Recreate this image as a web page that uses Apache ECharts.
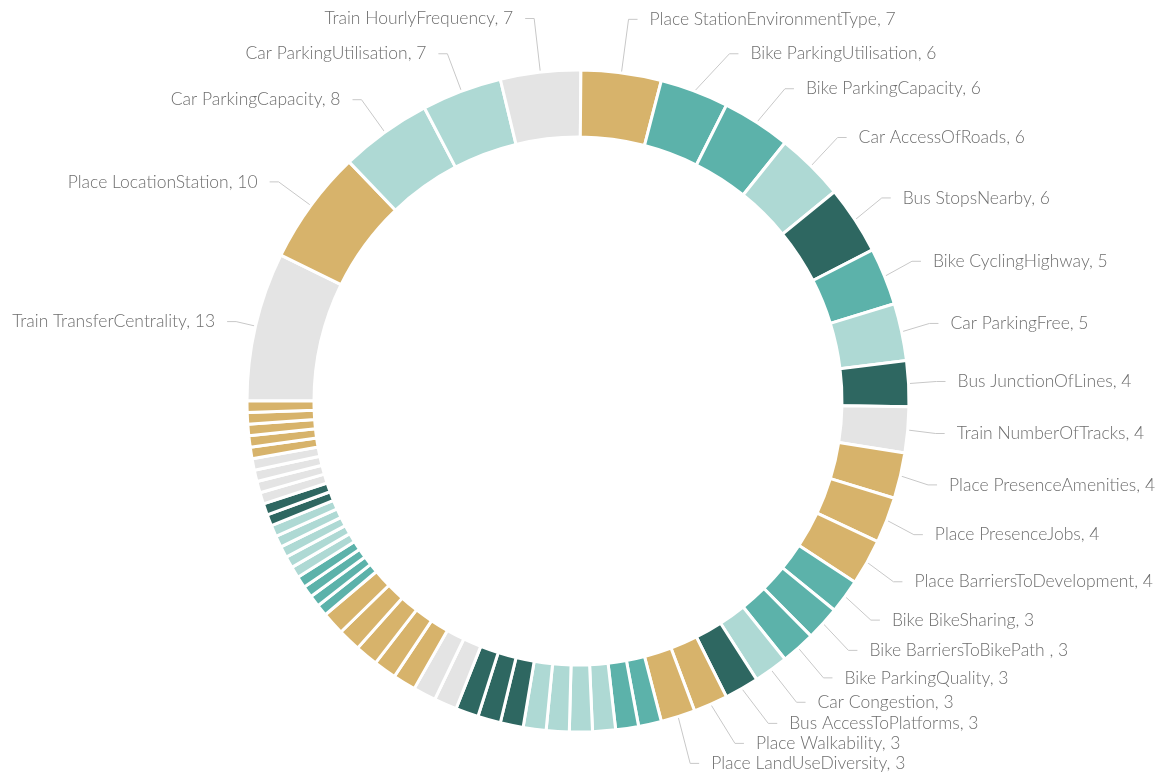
<!DOCTYPE html>
<html>
<head>
<meta charset="utf-8">
<script src="https://cdn.jsdelivr.net/npm/echarts@6/dist/echarts.min.js"></script>
<style>
  html, body { margin: 0; padding: 0; background: #fff; }
  #main { width: 1165px; height: 776px; }
</style>
</head>
<body>
<div id="main"></div>
<script>
// indicators, in drawing order (clockwise from 9 o'clock)
var names = [
  'Train TransferCentrality', 'Place LocationStation', 'Car ParkingCapacity',
  'Car ParkingUtilisation', 'Train HourlyFrequency', 'Place StationEnvironmentType',
  'Bike ParkingUtilisation', 'Bike ParkingCapacity', 'Car AccessOfRoads', 'Bus StopsNearby',
  'Bike CyclingHighway', 'Car ParkingFree',
  'Bus JunctionOfLines', 'Train NumberOfTracks', 'Place PresenceAmenities', 'Place PresenceJobs',
  'Place BarriersToDevelopment',
  'Bike BikeSharing', 'Bike BarriersToBikePath ', 'Bike ParkingQuality', 'Car Congestion',
  'Bus AccessToPlatforms', 'Place Walkability', 'Place LandUseDiversity',
  // small, unlabelled indicators
  'Bike Other A', 'Bike Other B',
  'Car Other A', 'Car Other B', 'Car Other C', 'Car Other D',
  'Bus Other A', 'Bus Other B', 'Bus Other C',
  'Train Other A', 'Train Other B',
  'Place Other A', 'Place Other B', 'Place Other C', 'Place Other D', 'Place Other E',
  'Bike Other C', 'Bike Other D', 'Bike Other E', 'Bike Other F',
  'Car Other E', 'Car Other F', 'Car Other G', 'Car Other H', 'Car Other I',
  'Bus Other D', 'Bus Other E',
  'Train Other C', 'Train Other D', 'Train Other E', 'Train Other F',
  'Place Other F', 'Place Other G', 'Place Other H', 'Place Other I', 'Place Other J'
];
var values = [
  13, 10, 8,
  7, 7, 7,
  6, 6, 6, 6,
  5, 5,
  4, 4, 4, 4,
  4,
  3, 3, 3, 3,
  3, 3, 3,
  2, 2,
  2, 2, 2, 2,
  2, 2, 2,
  2, 2,
  2, 2, 2, 2, 2,
  1, 1, 1, 1,
  1, 1, 1, 1, 1,
  1, 1,
  1, 1, 1, 1,
  1, 1, 1, 1, 1
];
var modeColors = {
  Bike: '#5cb2aa',
  Car: '#aed9d4',
  Bus: '#2e6761',
  Train: '#e4e4e4',
  Place: '#d7b36b'
};
// leader line lengths that differ from the default
var lineLength = {
  'Train TransferCentrality': 20,
  'Train HourlyFrequency': 54,
  'Place StationEnvironmentType': 54
};

var chart = echarts.init(document.getElementById('main'));

var data = names.map(function (n, i) {
  var d = {
    name: n,
    value: values[i],
    itemStyle: { color: modeColors[n.split(' ')[0]] }
  };
  if (lineLength[n] != null) {
    d.labelLine = { length: lineLength[n] };
  }
  return d;
});

chart.setOption({
  animation: false,
  series: [{
    type: 'pie',
    center: [578, 401],
    radius: [264, 331],
    startAngle: 180,
    clockwise: true,
    minShowLabelAngle: 5,
    avoidLabelOverlap: true,
    itemStyle: {
      borderColor: '#fff',
      borderWidth: 3
    },
    label: {
      show: true,
      position: 'outside',
      formatter: '{b}, {c}',
      color: '#6e6e6e',
      fontFamily: 'Lato',
      fontWeight: 300,
      fontSize: 17.5,
      distanceToLabelLine: 12,
      bleedMargin: 0
    },
    labelLine: {
      show: true,
      length: 40,
      length2: 9,
      smooth: false,
      lineStyle: { color: '#c8c8c8', width: 1 }
    },
    data: data
  }]
});
</script>
</body>
</html>
